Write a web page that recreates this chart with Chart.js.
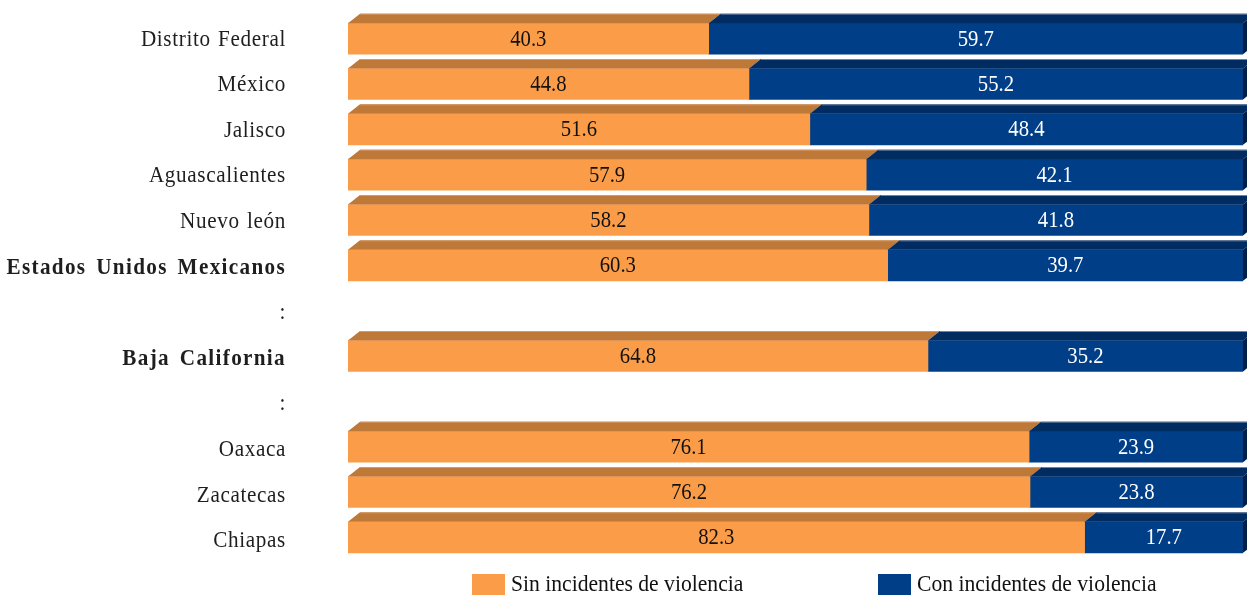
<!DOCTYPE html>
<html>
<head>
<meta charset="utf-8">
<script src="https://cdn.jsdelivr.net/npm/chart.js@4/dist/chart.umd.min.js"></script>
<style>
  html, body { margin: 0; padding: 0; background: #fff; overflow: hidden; }
  #wrap { width: 1247px; height: 595px; position: relative; }
</style>
</head>
<body>
<div id="wrap"><canvas id="c" width="1247" height="595"></canvas></div>
<script>
// ---- data ----
const categories = [
  'Distrito Federal', 'México', 'Jalisco', 'Aguascalientes', 'Nuevo león',
  'Estados Unidos Mexicanos', ':', 'Baja California', ':',
  'Oaxaca', 'Zacatecas', 'Chiapas'
];
const boldCategories = ['Estados Unidos Mexicanos', 'Baja California'];
const sinViolencia = [40.3, 44.8, 51.6, 57.9, 58.2, 60.3, null, 64.8, null, 76.1, 76.2, 82.3];
const conViolencia = [59.7, 55.2, 48.4, 42.1, 41.8, 39.7, null, 35.2, null, 23.9, 23.8, 17.7];
const seriesNames = ['Sin incidentes de violencia', 'Con incidentes de violencia'];

// ---- styles ----
const FRONT = ['#FB9D48', '#003F88'];
const TOP = ['#BE7838', '#002C62'];
const TOP_EDGE = ['#D49A66', '#6F82A0'];
const SIDE = '#001E48';
const DX = 12, DY = 9.5;
const SERIF = '"Liberation Serif", "Times New Roman", serif';

function narrowText(ctx, text, x, y, sx) {
  ctx.save();
  ctx.translate(x, y);
  ctx.scale(sx, 1);
  ctx.fillText(text, 0, 0);
  ctx.restore();
}

const bar3d = {
  id: 'bar3d',
  afterDatasetsDraw(chart) {
    const ctx = chart.ctx;
    ctx.save();
    const metas = chart.getSortedVisibleDatasetMetas();
    metas.forEach((meta) => {
      meta.data.forEach((el, i) => {
        const v = chart.data.datasets[meta.index].data[i];
        if (v === null || v === undefined) return;
        const p = el.getProps(['x', 'y', 'base', 'height'], true);
        const l = Math.min(p.base, p.x), r = Math.max(p.base, p.x);
        const t = p.y - p.height / 2, b = p.y + p.height / 2;
        ctx.fillStyle = TOP[meta.index];
        ctx.beginPath();
        ctx.moveTo(l, t);
        ctx.lineTo(l + DX, t - DY);
        ctx.lineTo(r + DX, t - DY);
        ctx.lineTo(r, t);
        ctx.closePath();
        ctx.fill();
        ctx.strokeStyle = TOP_EDGE[meta.index];
        ctx.lineWidth = 1;
        ctx.beginPath();
        ctx.moveTo(l + DX, t - DY + 0.5);
        ctx.lineTo(r + DX, t - DY + 0.5);
        ctx.stroke();
        if (meta.index === chart.data.datasets.length - 1) {
          ctx.fillStyle = SIDE;
          ctx.beginPath();
          ctx.moveTo(r, t);
          ctx.lineTo(r + DX, t - DY);
          ctx.lineTo(r + DX, b - DY);
          ctx.lineTo(r, b);
          ctx.closePath();
          ctx.fill();
        }
      });
    });
    ctx.font = '23px ' + SERIF;
    ctx.textAlign = 'center';
    ctx.textBaseline = 'middle';
    metas.forEach((meta) => {
      meta.data.forEach((el, i) => {
        const v = chart.data.datasets[meta.index].data[i];
        if (v === null || v === undefined) return;
        const p = el.getProps(['x', 'y', 'base'], true);
        ctx.fillStyle = meta.index === 0 ? '#111111' : '#FFFFFF';
        narrowText(ctx, v.toFixed(1), (p.x + p.base) / 2, p.y + 1, 0.9);
      });
    });
    ctx.restore();
  },
  afterDraw(chart) {
    const ctx = chart.ctx;
    const ys = chart.scales.y;
    const area = chart.chartArea;
    ctx.save();
    ctx.textAlign = 'right';
    ctx.textBaseline = 'middle';
    ctx.fillStyle = '#1E1E1E';
    categories.forEach((c, i) => {
      const y = ys.getPixelForValue(i);
      const bold = boldCategories.includes(c);
      ctx.font = (bold ? 'bold ' : '') + '23px ' + SERIF;
      ctx.letterSpacing = bold ? '1.45px' : '0.7px';
      ctx.wordSpacing = bold ? '3.5px' : '1.5px';
      narrowText(ctx, c, area.left - 62, y + 1 + i * 0.25, 0.92);
    });
    ctx.letterSpacing = '0px';
    ctx.wordSpacing = '0px';
    ctx.font = '23px ' + SERIF;
    ctx.textAlign = 'left';
    const ly = 584;
    let x = area.left + 124;
    seriesNames.forEach((name, k) => {
      ctx.fillStyle = FRONT[k];
      ctx.fillRect(x, ly - 10, 33, 21);
      ctx.fillStyle = '#111111';
      narrowText(ctx, name, x + 39, ly + 1, 0.94);
      x += 406;
    });
    ctx.restore();
  }
};

new Chart(document.getElementById('c'), {
  type: 'bar',
  data: {
    labels: categories,
    datasets: [
      { label: seriesNames[0], data: sinViolencia, backgroundColor: FRONT[0], borderWidth: 0 },
      { label: seriesNames[1], data: conViolencia, backgroundColor: FRONT[1], borderWidth: 0 }
    ]
  },
  options: {
    indexAxis: 'y',
    responsive: false,
    animation: false,
    layout: { padding: { left: 348, right: 4, top: 16, bottom: 35 } },
    scales: {
      x: { stacked: true, min: 0, max: 100, display: false },
      y: { stacked: true, display: false, offset: true }
    },
    datasets: { bar: { barThickness: 31 } },
    plugins: {
      legend: { display: false },
      tooltip: { enabled: false }
    }
  },
  plugins: [bar3d]
});
</script>
</body>
</html>
